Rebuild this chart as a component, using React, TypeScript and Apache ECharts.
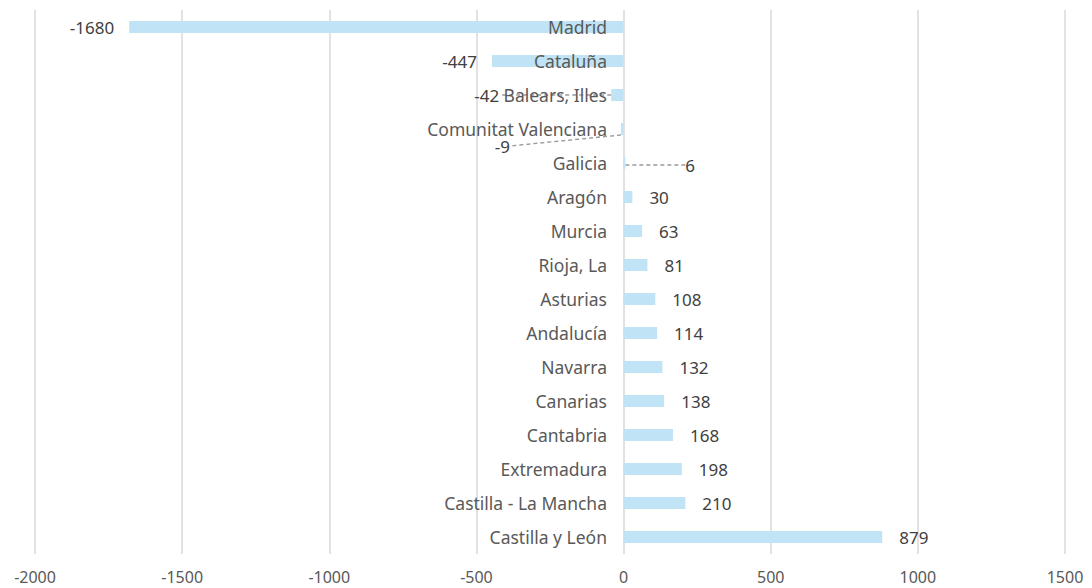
import React, { useEffect, useRef } from "react";
import * as echarts from "echarts";

const categories = [
  "Madrid",
  "Cataluña",
  "Balears, Illes",
  "Comunitat Valenciana",
  "Galicia",
  "Aragón",
  "Murcia",
  "Rioja, La",
  "Asturias",
  "Andalucía",
  "Navarra",
  "Canarias",
  "Cantabria",
  "Extremadura",
  "Castilla - La Mancha",
  "Castilla y León",
];
const values = [-1680, -447, -42, -9, 6, 30, 63, 81, 108, 114, 132, 138, 168, 198, 210, 879];
const xTicks = { min: -2000, max: 1500, interval: 500 };

const FONT = "'Noto Sans', sans-serif";
const TEXT = "#595959";

export default function App() {
  const ref = useRef<HTMLDivElement>(null);
  useEffect(() => {
    const chart = echarts.init(ref.current!, null, { renderer: "svg" });
    const dashed = { show: true, lineStyle: { color: "#9a9a9a", type: [4, 3], width: 1.4 } };
    const data = values.map((v, i) => {
      const item: any = {
        value: v,
        label: { position: v < 0 ? "left" : "right", distance: v < 0 ? 15 : 17 },
      };
      if (categories[i] === "Balears, Illes") {
        item.label = { position: "left", distance: 112 };
        item.labelLine = dashed;
      }
      if (categories[i] === "Comunitat Valenciana") {
        item.label = { position: "left", distance: 111 };
        item.labelLine = dashed;
      }
      if (categories[i] === "Galicia") {
        item.label = { position: "right", distance: 60 };
        item.labelLine = dashed;
      }
      return item;
    });
    chart.setOption({
      animation: false,
      textStyle: { fontFamily: FONT },
      grid: { left: 35, right: 27, top: 10, bottom: 34, containLabel: false, outerBoundsMode: "none" },
      xAxis: {
        type: "value",
        min: xTicks.min,
        max: xTicks.max,
        interval: xTicks.interval,
        axisLine: { show: false },
        axisTick: { show: false },
        axisLabel: { color: TEXT, fontSize: 16, fontFamily: FONT, margin: 15, formatter: (v: number) => String(v) },
        splitLine: { lineStyle: { color: "#d9d9d9", width: 1.5 } },
      },
      yAxis: {
        type: "category",
        data: categories,
        inverse: true,
        z: 5,
        offset: -589,
        axisLine: { show: false, onZero: false },
        axisTick: { show: false },
        axisLabel: { color: TEXT, fontSize: 17.5, lineHeight: 18, fontFamily: FONT, margin: 17 },
      },
      series: [
        {
          type: "bar",
          data,
          barWidth: 12,
          itemStyle: { color: "#c0e4f5" },
          label: { show: true, color: "#404040", fontSize: 17, lineHeight: 16, fontFamily: FONT },
          labelLayout: (p: any) => {
            if (p.dataIndex === 3) return { dy: 17 };
            if (p.dataIndex === 4) return { dy: 2 };
            return {};
          },
        },
      ],
    });
    return () => chart.dispose();
  }, []);
  return (
    <div
      ref={ref}
      style={{ position: "fixed", left: 0, top: 0, width: 1092, height: 588, background: "#fff" }}
    />
  );
}
